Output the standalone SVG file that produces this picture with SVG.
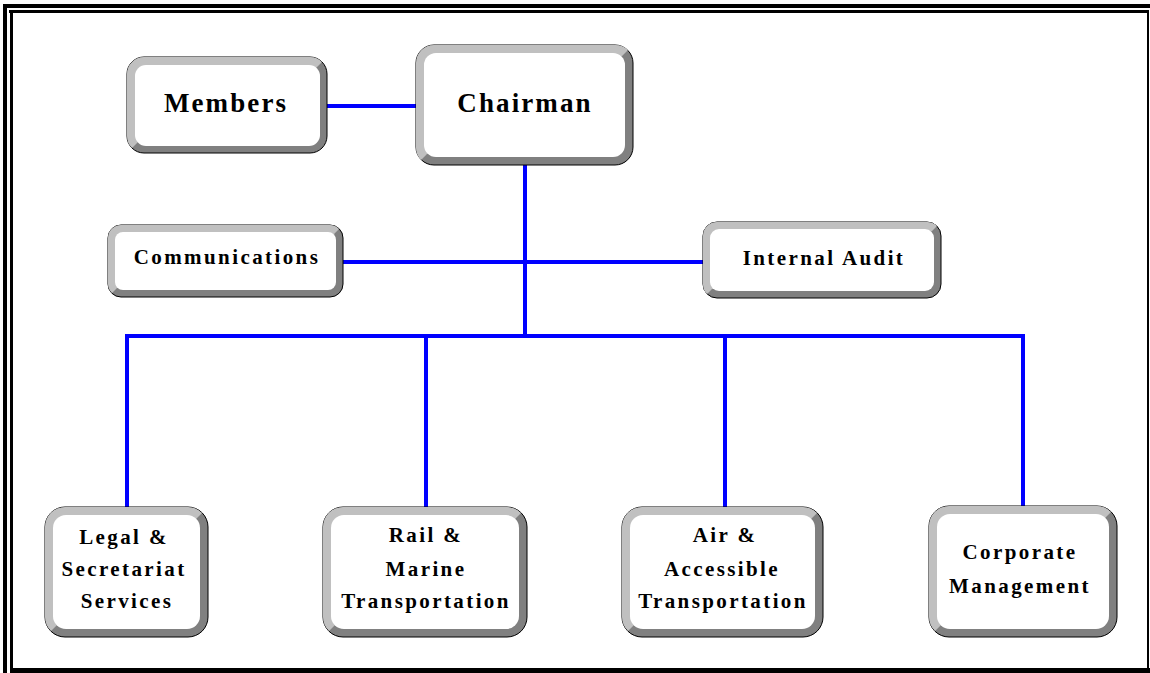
<svg xmlns="http://www.w3.org/2000/svg" width="1150" height="673" viewBox="0 0 1150 673">
<style>
.outer{fill:#808080;stroke:#000;stroke-width:1}
.light{fill:#c0c0c0}
.inner{fill:#fff}
.frame{fill:#000}
.conn{stroke:#0000ff;stroke-width:4;fill:none}
.big{font-family:"Liberation Serif","Times New Roman",serif;font-weight:bold;font-size:27px;letter-spacing:2.1px;fill:#000;text-anchor:middle}
.t{font-family:"Liberation Serif","Times New Roman",serif;font-weight:bold;font-size:21px;letter-spacing:2.4px;fill:#000;text-anchor:middle}
</style>
<rect width="1150" height="673" fill="#fff"/>
<g id="frame">
<rect class="frame" x="3" y="4" width="1147" height="4"/>
<rect class="frame" x="3" y="4" width="4" height="669"/>
<rect class="frame" x="9" y="10" width="1139" height="3"/>
<rect class="frame" x="10" y="10" width="3" height="663"/>
<rect class="frame" x="1147" y="10" width="2" height="663"/>
<rect class="frame" x="10" y="668" width="1140" height="5"/>
</g>
<g id="connectors">
<line class="conn" x1="318" y1="106" x2="424" y2="106"/>
<line class="conn" x1="525" y1="156" x2="525" y2="336"/>
<line class="conn" x1="335" y1="262" x2="712" y2="262"/>
<line class="conn" x1="125" y1="336" x2="1025" y2="336"/>
<line class="conn" x1="127" y1="334" x2="127" y2="513"/>
<line class="conn" x1="426" y1="334" x2="426" y2="513"/>
<line class="conn" x1="725" y1="334" x2="725" y2="513"/>
<line class="conn" x1="1023" y1="334" x2="1023" y2="513"/>
</g>
<g id="members">
<rect class="outer" x="127" y="57" width="200" height="96" rx="17"/>
<path class="light" d="M132 148 A17 17 0 0 1 127 136 L127 74 A17 17 0 0 1 144 57 L310 57 A17 17 0 0 1 322 62 L316 68 L138 142 Z"/>
<rect class="inner" x="135" y="65" width="185" height="81" rx="11"/>
<text class="big" x="226" y="112">Members</text>
</g>
<g id="chairman">
<rect class="outer" x="416" y="45" width="217" height="120" rx="18"/>
<path class="light" d="M421 160 A18 18 0 0 1 416 147 L416 63 A18 18 0 0 1 434 45 L615 45 A18 18 0 0 1 628 50 L622 56 L427 154 Z"/>
<rect class="inner" x="424" y="53" width="201" height="104" rx="12"/>
<text class="big" x="525" y="112">Chairman</text>
</g>
<g id="communications">
<rect class="outer" x="108" y="225" width="235" height="72" rx="13"/>
<path class="light" d="M112 293 A13 13 0 0 1 108 284 L108 238 A13 13 0 0 1 121 225 L330 225 A13 13 0 0 1 339 229 L334 234 L117 288 Z"/>
<rect class="inner" x="115" y="232" width="221" height="58" rx="8"/>
<text class="t" x="227" y="264">Communications</text>
</g>
<g id="internal-audit">
<rect class="outer" x="703" y="222" width="238" height="76" rx="14"/>
<path class="light" d="M707 294 A14 14 0 0 1 703 284 L703 236 A14 14 0 0 1 717 222 L927 222 A14 14 0 0 1 937 226 L932 231 L712 289 Z"/>
<rect class="inner" x="710" y="229" width="224" height="62" rx="9"/>
<text class="t" x="824" y="265">Internal Audit</text>
</g>
<g id="legal">
<rect class="outer" x="45" y="507" width="163" height="130" rx="20"/>
<path class="light" d="M51 631 A20 20 0 0 1 45 617 L45 527 A20 20 0 0 1 65 507 L188 507 A20 20 0 0 1 202 513 L196 519 L57 625 Z"/>
<rect class="inner" x="53" y="515" width="147" height="114" rx="13"/>
<text class="t" x="124" y="544">Legal &amp;</text>
<text class="t" x="124" y="576">Secretariat</text>
<text class="t" x="127" y="608">Services</text>
</g>
<g id="rail">
<rect class="outer" x="323" y="507" width="204" height="130" rx="20"/>
<path class="light" d="M329 631 A20 20 0 0 1 323 617 L323 527 A20 20 0 0 1 343 507 L507 507 A20 20 0 0 1 521 513 L515 519 L335 625 Z"/>
<rect class="inner" x="331" y="515" width="188" height="114" rx="13"/>
<text class="t" x="426" y="542">Rail &amp;</text>
<text class="t" x="426" y="576">Marine</text>
<text class="t" x="426" y="608">Transportation</text>
</g>
<g id="air">
<rect class="outer" x="622" y="507" width="201" height="130" rx="20"/>
<path class="light" d="M628 631 A20 20 0 0 1 622 617 L622 527 A20 20 0 0 1 642 507 L803 507 A20 20 0 0 1 817 513 L811 519 L634 625 Z"/>
<rect class="inner" x="630" y="515" width="185" height="114" rx="13"/>
<text class="t" x="725" y="542">Air &amp;</text>
<text class="t" x="722" y="576">Accessible</text>
<text class="t" x="723" y="608">Transportation</text>
</g>
<g id="corporate">
<rect class="outer" x="929" y="506" width="188" height="131" rx="20"/>
<path class="light" d="M935 631 A20 20 0 0 1 929 617 L929 526 A20 20 0 0 1 949 506 L1097 506 A20 20 0 0 1 1111 512 L1105 518 L941 625 Z"/>
<rect class="inner" x="937" y="514" width="172" height="115" rx="13"/>
<text class="t" x="1020" y="559">Corporate</text>
<text class="t" x="1020" y="593">Management</text>
</g>
</svg>
